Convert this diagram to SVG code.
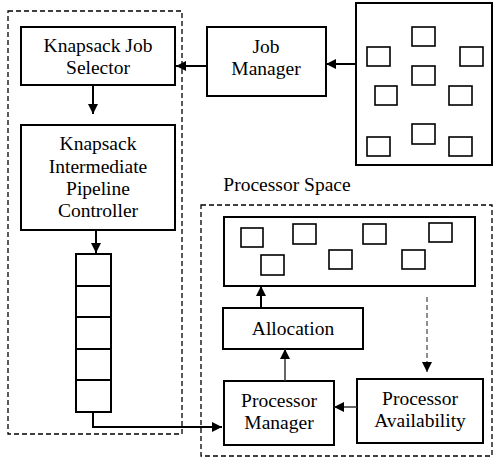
<svg xmlns="http://www.w3.org/2000/svg" width="497" height="476" viewBox="0 0 497 476">
<defs>
<style>
.box{fill:#fff;stroke:#000;stroke-width:2}
.sq{fill:#fff;stroke:#000;stroke-width:1.6}
.dash{fill:none;stroke:#000;stroke-width:1.3;stroke-dasharray:5,3}
.t{font-family:'Liberation Serif','Times New Roman',serif;font-size:19.5px;fill:#000;text-anchor:middle}
.c{fill:none;stroke:#000;stroke-width:2}
.cg{fill:none;stroke:#333;stroke-width:1.5}
.cd{fill:none;stroke:#555;stroke-width:1.3;stroke-dasharray:5,3}
</style>
<marker id="ah" viewBox="0 0 10 10" refX="10" refY="5" markerWidth="10" markerHeight="10" markerUnits="userSpaceOnUse" orient="auto">
<path d="M0,0 L10,5 L0,10 Z" fill="#000"/>
</marker>
</defs>
<g id="job-side">
<rect class="dash" x="8" y="11" width="174" height="423"/>
</g>
<g id="processor-space">
<rect class="dash" x="201" y="205" width="291" height="251"/>
<text class="t" x="287" y="191">Processor Space</text>
</g>
<g id="knapsack-job-selector">
<rect class="box" x="21" y="27" width="154" height="58"/>
<text class="t" x="98" y="52">Knapsack Job</text>
<text class="t" x="98" y="74">Selector</text>
</g>
<g id="kipc">
<rect class="box" x="21" y="125" width="154" height="105"/>
<text class="t" x="98" y="150">Knapsack</text>
<text class="t" x="98" y="173">Intermediate</text>
<text class="t" x="98" y="195">Pipeline</text>
<text class="t" x="98" y="217">Controller</text>
</g>
<g id="queue">
<rect class="box" x="76" y="254" width="35" height="158"/>
<line class="c" x1="76" y1="286" x2="111" y2="286"/>
<line class="c" x1="76" y1="317" x2="111" y2="317"/>
<line class="c" x1="76" y1="349" x2="111" y2="349"/>
<line class="c" x1="76" y1="380" x2="111" y2="380"/>
</g>
<g id="job-manager">
<rect class="box" x="207" y="27" width="119" height="69"/>
<text class="t" x="266" y="53">Job</text>
<text class="t" x="266" y="75">Manager</text>
</g>
<g id="job-pool">
<rect class="box" x="356" y="3" width="136" height="162"/>
<rect class="sq" x="412" y="27" width="23" height="19"/>
<rect class="sq" x="367" y="47" width="23" height="19"/>
<rect class="sq" x="460" y="47" width="23" height="19"/>
<rect class="sq" x="412" y="66" width="23" height="19"/>
<rect class="sq" x="375" y="86" width="22" height="19"/>
<rect class="sq" x="449" y="86" width="23" height="19"/>
<rect class="sq" x="367" y="137" width="23" height="19"/>
<rect class="sq" x="412" y="124" width="23" height="20"/>
<rect class="sq" x="449" y="137" width="23" height="19"/>
</g>
<g id="processor-pool">
<rect class="box" x="224" y="217" width="251" height="69"/>
<rect class="sq" x="241" y="228" width="22" height="19"/>
<rect class="sq" x="293" y="224" width="23" height="20"/>
<rect class="sq" x="363" y="224" width="23" height="20"/>
<rect class="sq" x="429" y="223" width="23" height="19"/>
<rect class="sq" x="261" y="255" width="23" height="20"/>
<rect class="sq" x="329" y="250" width="23" height="19"/>
<rect class="sq" x="402" y="250" width="23" height="19"/>
</g>
<g id="allocation">
<rect class="box" x="223" y="308" width="140" height="41"/>
<text class="t" x="293" y="335">Allocation</text>
</g>
<g id="processor-manager">
<rect class="box" x="224" y="381" width="110" height="64"/>
<text class="t" x="279" y="407">Processor</text>
<text class="t" x="279" y="429">Manager</text>
</g>
<g id="processor-availability">
<rect class="box" x="357" y="379" width="126" height="64"/>
<text class="t" x="420" y="405">Processor</text>
<text class="t" x="420" y="427">Availability</text>
</g>
<g id="connectors">
<line class="c" x1="207" y1="66" x2="176" y2="66" marker-end="url(#ah)"/>
<line class="c" x1="356" y1="64" x2="326" y2="64" marker-end="url(#ah)"/>
<line class="c" x1="93" y1="85" x2="93" y2="114" marker-end="url(#ah)"/>
<line class="c" x1="96" y1="230" x2="96" y2="253" marker-end="url(#ah)"/>
<polyline class="c" points="93,412 93,427 222,427" marker-end="url(#ah)"/>
<line class="c" x1="261" y1="308" x2="261" y2="286" marker-end="url(#ah)"/>
<line class="cg" x1="285" y1="381" x2="285" y2="349" marker-end="url(#ah)"/>
<line class="cg" x1="357" y1="407" x2="334" y2="407" marker-end="url(#ah)"/>
<line class="cd" x1="427" y1="297" x2="427" y2="372" marker-end="url(#ah)"/>
</g>
</svg>
